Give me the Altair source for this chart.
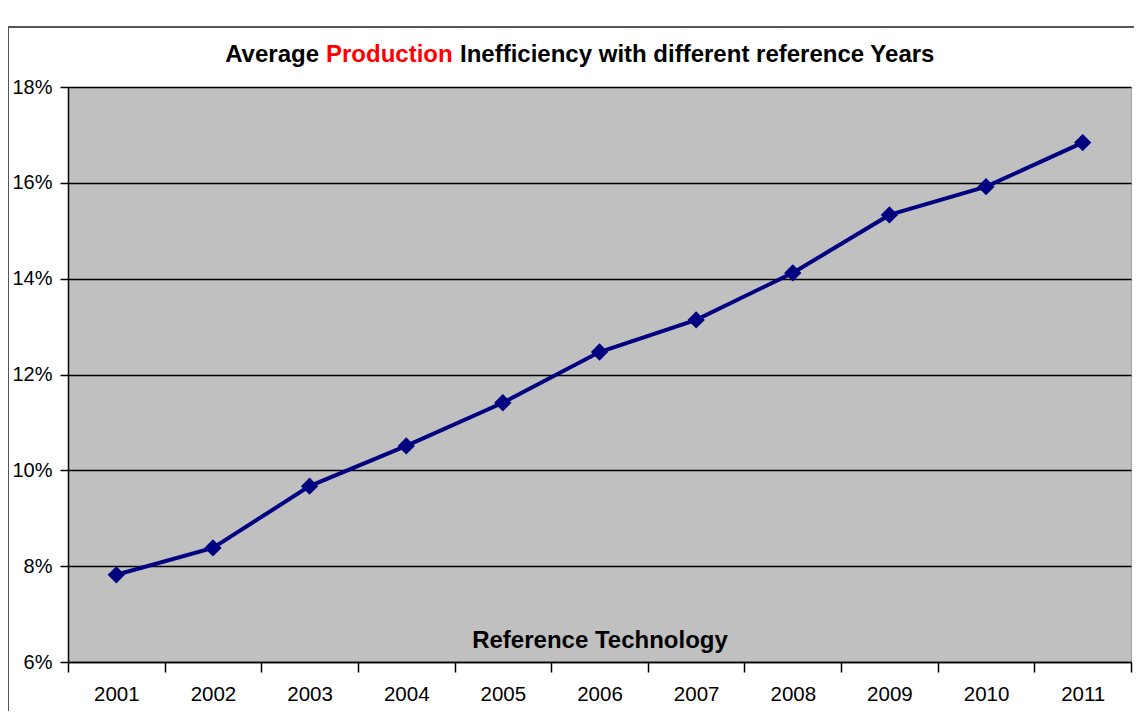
import altair as alt
import pandas as pd

years = ["2001", "2002", "2003", "2004", "2005", "2006", "2007", "2008", "2009", "2010", "2011"]
inefficiency = [0.0782, 0.0838, 0.0967, 0.1051, 0.1141, 0.1247, 0.1314, 0.1412, 0.1533, 0.1592, 0.1684]
y_ticks = [0.06, 0.08, 0.10, 0.12, 0.14, 0.16, 0.18]

df = pd.DataFrame({"year": years, "value": inefficiency})

FONT = "Liberation Sans, Arial, sans-serif"
W, H = 1063, 575

base = alt.Chart(df)

x_enc = alt.X(
    "year:O",
    sort=years,
    scale=alt.Scale(paddingInner=0, paddingOuter=0),
    axis=alt.Axis(
        title="Reference Technology",
        titleFont=FONT, titleFontSize=24, titleFontWeight="bold", titleColor="#000000",
        titleY=-15, titleBaseline="alphabetic",
        labelFont=FONT, labelFontSize=20.5, labelColor="#000000", labelAngle=0, labelPadding=12,
        tickBand="extent", tickSize=10, tickColor="#000000", tickWidth=1.5,
        domainColor="#000000", domainWidth=1.5,
    ),
)
y_enc = alt.Y(
    "value:Q",
    scale=alt.Scale(domain=[0.06, 0.18], nice=False, zero=False),
    axis=alt.Axis(
        title=None, values=y_ticks, format=".0%",
        labelFont=FONT, labelFontSize=20, labelColor="#000000", labelPadding=8,
        tickSize=8, tickColor="#000000", tickWidth=1.5,
        domainColor="#000000", domainWidth=1.5,
        grid=True, gridColor="#000000", gridWidth=1.5,
    ),
)

line = base.mark_line(color="#000080", strokeWidth=4).encode(x=x_enc, y=y_enc)
points = base.mark_point(shape="diamond", filled=True, color="#000080", size=300, opacity=1).encode(
    x=alt.X("year:O", sort=years), y="value:Q"
)

title_df = pd.DataFrame({"a": [0]})
t_base = alt.Chart(title_df)
TS = 24
t1 = t_base.mark_text(text="Average", font=FONT, fontSize=TS, fontWeight="bold", color="#000000",
                      align="right", baseline="alphabetic").encode(x=alt.value(251), y=alt.value(-25))
t2 = t_base.mark_text(text="Production", font=FONT, fontSize=TS, fontWeight="bold", color="#FF0000",
                      align="left", baseline="alphabetic").encode(x=alt.value(258), y=alt.value(-25))
t3 = t_base.mark_text(text="Inefficiency with different reference Years", font=FONT, fontSize=TS,
                      fontWeight="bold", color="#000000",
                      align="left", baseline="alphabetic").encode(x=alt.value(392), y=alt.value(-25))

frame = t_base.mark_rule(color="#555555", strokeWidth=2).encode(
    x=alt.value(-60), x2=alt.value(W + 40), y=alt.value(-60)
)
frame_l = t_base.mark_rule(color="#555555", strokeWidth=2).encode(
    x=alt.value(-60), y=alt.value(-60), y2=alt.value(H + 60)
)

chart = (
    alt.layer(line, points, t1, t2, t3, frame, frame_l)
    .properties(
        width=W, height=H,
        autosize=alt.AutoSizeParams(type="none"),
        padding={"left": 60, "top": 79, "right": 3, "bottom": 49},
        background="#FFFFFF",
    )
    .configure_view(fill="#C0C0C0", stroke="#A0A0A0", strokeWidth=1)
)

chart.save("out.html", embed_options={"renderer": "svg", "actions": False})
